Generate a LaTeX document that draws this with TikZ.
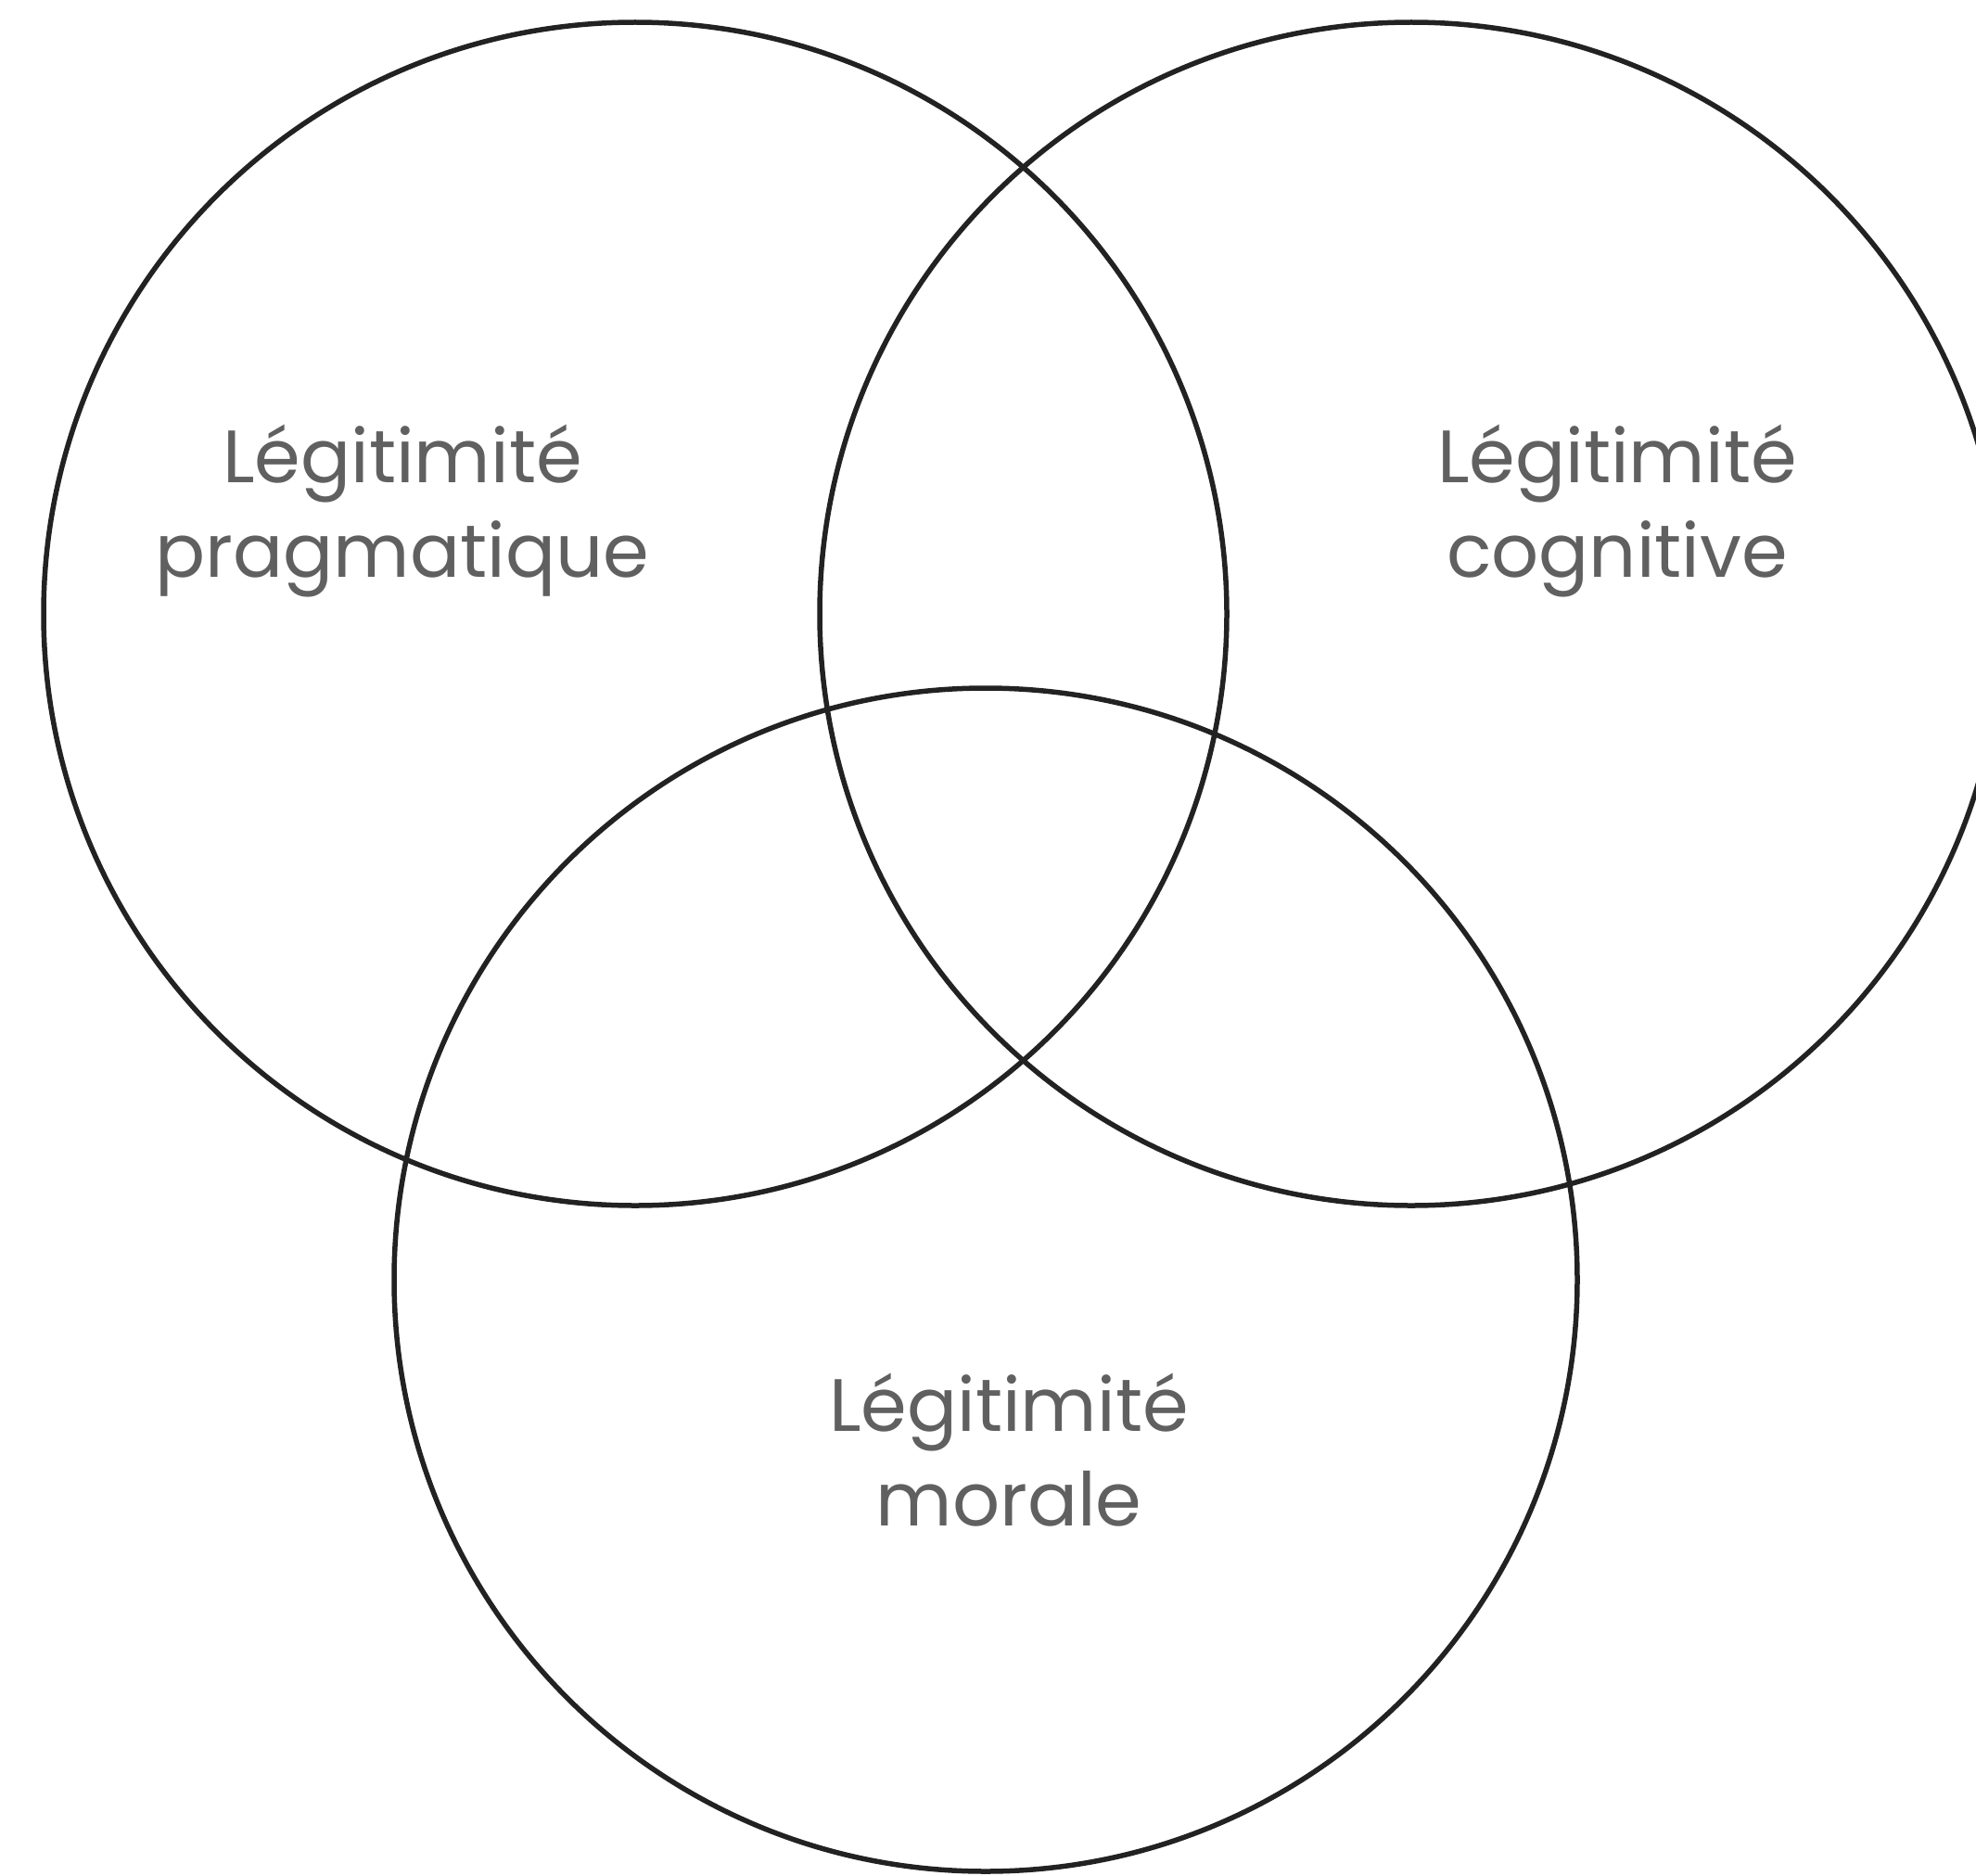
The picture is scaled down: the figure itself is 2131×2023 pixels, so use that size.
\documentclass[tikz,border=0pt]{standalone}
\usepackage{fontspec}
\setmainfont{Poppins}
\definecolor{ringcol}{HTML}{222222}
\definecolor{textcol}{HTML}{606060}
\begin{document}
\begin{tikzpicture}[x=1pt,y=-1pt,
  ring/.style={circle,draw=ringcol,line width=5.5pt,inner sep=0pt,minimum size=1276pt},
  label/.style={text=textcol,align=center,font=\fontsize{80}{102}\selectfont,inner sep=0pt}]
\useasboundingbox (0,0) rectangle (2131,2023);
\clip (0,0) rectangle (2131,2023);
\fill[white] (0,0) rectangle (2131,2023);
\node[ring] (prag) at (685,662) {};
\node[ring] (cogn) at (1522,662) {};
\node[ring] (mora) at (1063,1380) {};
\node[label,anchor=base] (tprag) at (434,622) {Légitimité\\pragmatique};
\node[label,anchor=base] (tcogn) at (1744,622) {Légitimité\\cognitive};
\node[label,anchor=base] (tmora) at (1088,1645) {Légitimité\\morale};
\end{tikzpicture}
\end{document}
